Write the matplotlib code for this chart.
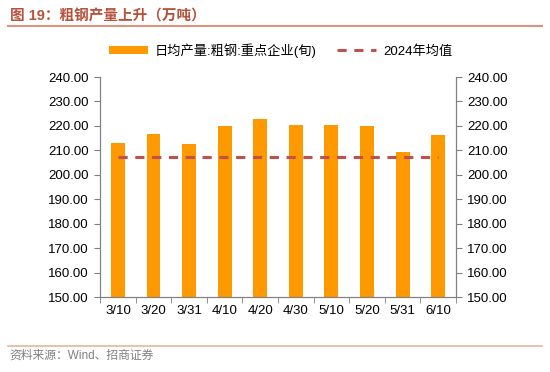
import matplotlib.pyplot as plt
import numpy as np

plt.rcParams['font.family'] = ['Liberation Sans', 'Noto Sans CJK SC', 'DejaVu Sans']

dates = ["3/10", "3/20", "3/31", "4/10", "4/20", "4/30", "5/10", "5/20", "5/31", "6/10"]
output = [213.2, 216.5, 212.7, 219.8, 222.9, 220.2, 220.5, 220.0, 209.3, 216.1]
avg_2024 = 207.1

fig = plt.figure(figsize=(5.5, 3.72), dpi=100)
ax = fig.add_axes([0.182, 0.2016, 0.647, 0.5914])
x = np.arange(len(dates))

bars = ax.bar(x, output, width=0.39, color="#FF9900", label="日均产量:粗钢:重点企业(旬)", zorder=2)
line, = ax.plot(x, [avg_2024] * len(x), color="#C0504D", linestyle=(0, (3, 2.5)), linewidth=2.2,
                label="2024年均值", zorder=3)

ax.set_xlim(-0.5, len(x) - 0.5)
ax.set_ylim(150, 240)
ax.set_yticks(np.arange(150, 241, 10))
ax.set_yticklabels([f"{v:.2f}" for v in range(150, 241, 10)], fontsize=9.5)
ax.set_xticks(x)
ax.set_xticklabels(dates, fontsize=9.5)
ax.set_xticks(np.arange(-0.5, len(x), 1), minor=True)
ax.tick_params(axis="x", which="major", length=0, pad=6)
ax.tick_params(axis="x", which="minor", length=4, color="#808080")
ax.tick_params(axis="y", length=4, color="#808080", pad=4)

ax2 = ax.twinx()
ax2.set_ylim(150, 240)
ax2.set_yticks(np.arange(150, 241, 10))
ax2.set_yticklabels([f"{v:.2f}" for v in range(150, 241, 10)], fontsize=9.5)
ax2.tick_params(axis="y", length=4, color="#808080", pad=4)

for a in (ax, ax2):
    a.spines["top"].set_visible(False)
    for s in ("left", "right", "bottom"):
        a.spines[s].set_color("#808080")

fig.legend([bars, line], ["日均产量:粗钢:重点企业(旬)", "2024年均值"],
           loc="center", bbox_to_anchor=(0.51, 0.865), ncol=2, frameon=False,
           fontsize=9.5, handlelength=3, handleheight=0.5, handletextpad=0.5,
           columnspacing=1.5)

fig.text(0.018, 0.955, "图 19：粗钢产量上升（万吨）", fontsize=10.5, color="#B5523B",
         fontweight="bold", va="center")
fig.add_artist(plt.Line2D([0.015, 0.985], [0.93, 0.93], color="#D9957E", linewidth=1.5))
fig.add_artist(plt.Line2D([0.015, 0.985], [0.07, 0.07], color="#E8B4A0", linewidth=1.2))
fig.text(0.018, 0.045, "资料来源：Wind、招商证券", fontsize=8.5, color="#808080", va="center")

fig.savefig("out.png", dpi=100)
